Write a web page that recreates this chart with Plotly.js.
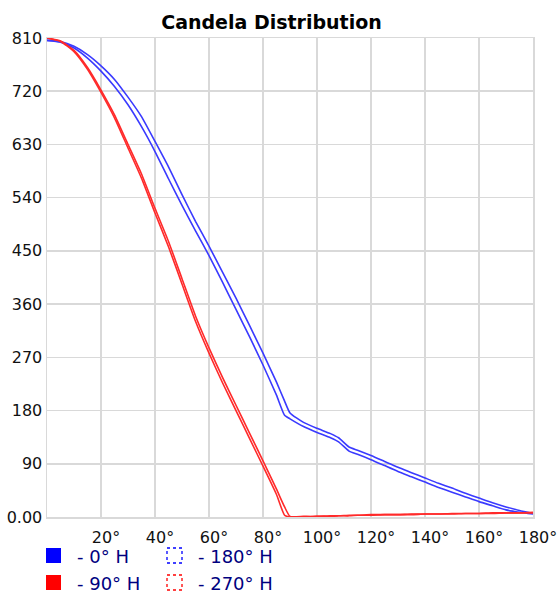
<!DOCTYPE html>
<html>
<head>
<meta charset="utf-8">
<script src="https://cdn.plot.ly/plotly-3.0.1.min.js"></script>
<style>html,body{margin:0;padding:0;background:#fff;}#chart{width:558px;height:595px;}</style>
</head>
<body>
<div id="chart"></div>
<script>
// Vertical angle (degrees)
const angles = [0,5,10,15,20,25,30,35,40,45,50,55,60,65,70,75,80,85,88,90,95,100,105,108,112,115,120,125,130,135,140,145,150,155,160,165,170,175,180];
// Candela values per horizontal plane
const cd0 = [806,804,796,782,763,740,710,677,635,592,545,500,458,414,370,324,277,228,196,176,160,150,141,134,118,113,104,94,84,75,66,57,49,40,32,24,17,11,6];
const cd180 = [806,803,793,776,754,728,697,660,618,572,527,484,442,397,351,305,257,206,172,166,153,143,134,127,111,106,97,87,77,68,59,50,42,34,26,19,12,8,5];
const cd90 = [810,805,789,760,722,680,630,580,522,466,403,340,286,236,189,142,95,47,17,1,1,1,2,2,3,3,4,4,4,5,5,5,6,6,6,7,7,7,8];
const cd270 = [810,804,787,757,718,675,624,573,514,457,394,331,277,227,180,133,86,38,3,0,0,1,1,2,2,3,3,4,4,4,5,5,5,6,6,6,7,7,7];

const xTickVals = [20,40,60,80,100,120,140,160,180];
const xTickText = ["20°","40°","60°","80°","100°","120°","140°","160°","180°"];
const yTickVals = [0,90,180,270,360,450,540,630,720,810];
const yTickText = ["0.00","90","180","270","360","450","540","630","720","810"];

const seriesNames = ["- 0° H","- 180° H","- 90° H","- 270° H"];
const seriesColors = ["#0000ff","#0000ff","#ff0000","#ff0000"];
const seriesDashed = [false,true,false,true];
const lineColors = ["#3a3aff","#3a3aff","#ff2a2a","#ff2a2a"];
const seriesData = [cd0, cd180, cd90, cd270];

const font = "DejaVu Sans, Verdana, sans-serif";
const W = 558, H = 595;
const M = {l: 47, r: 25, t: 38, b: 78};
const PW = W - M.l - M.r, PH = H - M.t - M.b;
const px2x = p => (p - M.l) / PW;
const py2y = p => (H - M.b - p) / PH;

const traces = seriesData.map((d, i) => ({
  x: angles, y: d, mode: "lines", name: seriesNames[i],
  line: {color: lineColors[i], width: 1.6, shape: "spline", smoothing: 0.5},
  showlegend: false, hoverinfo: "skip"
}));

// Legend drawn as shapes + text (2 x 2 grid)
const shapes = [], annotations = [];
const colX = [46, 167], rowY = [548, 575], textX = [75, 196], box = 15;
seriesNames.forEach((name, i) => {
  const c = i % 2, r = Math.floor(i / 2);
  const order = [0, 2, 1, 3]; // row-major placement: 0°,180° / 90°,270°
  const k = [0, 1, 2, 3][i];
  const sq = {
    type: "rect", xref: "paper", yref: "paper",
    x0: px2x(colX[c]), x1: px2x(colX[c] + box),
    y0: py2y(rowY[r] + box), y1: py2y(rowY[r])
  };
  if (seriesDashed[k]) {
    sq.line = {color: seriesColors[k], width: 1.3, dash: "3px,3px"};
    sq.fillcolor = "rgba(0,0,0,0)";
  } else {
    sq.line = {width: 0};
    sq.fillcolor = seriesColors[k];
  }
  shapes.push(sq);
  annotations.push({
    xref: "paper", yref: "paper", x: px2x(textX[c]), y: py2y(rowY[r] + box / 2 + 0.5),
    xanchor: "left", yanchor: "middle", showarrow: false, text: seriesNames[k],
    font: {family: font, size: 18, color: "#000080"}
  });
});

const layout = {
  width: W, height: H,
  margin: M,
  paper_bgcolor: "#ffffff", plot_bgcolor: "#ffffff",
  font: {family: font, size: 16, color: "#111"},
  title: {text: "Candela Distribution", font: {family: font, size: 19, color: "#000", weight: "bold"},
          xref: "container", x: 271.5 / W, xanchor: "center", y: 1 - 22 / H, yanchor: "middle"},
  xaxis: {
    range: [0, 180], tickvals: xTickVals, ticktext: xTickText, ticks: "", ticklabelstandoff: 5, ticklabelshift: 5,
    showgrid: true, gridcolor: "#d9d9d9", gridwidth: 1.5, zeroline: false,
    showline: true, linecolor: "#d9d9d9", linewidth: 1.5, mirror: true, fixedrange: true,
    tickfont: {family: font, size: 16, color: "#111"}
  },
  yaxis: {
    range: [0, 810], tickvals: yTickVals, ticktext: yTickText, ticks: "",
    showgrid: true, gridcolor: "#d9d9d9", gridwidth: 1.5, zeroline: false,
    showline: true, linecolor: "#d9d9d9", linewidth: 1.5, mirror: true, fixedrange: true,
    tickfont: {family: font, size: 16, color: "#111"}
  },
  shapes: shapes,
  annotations: annotations,
  showlegend: false
};

Plotly.newPlot("chart", traces, layout, {staticPlot: true, displayModeBar: false});
</script>
</body>
</html>
